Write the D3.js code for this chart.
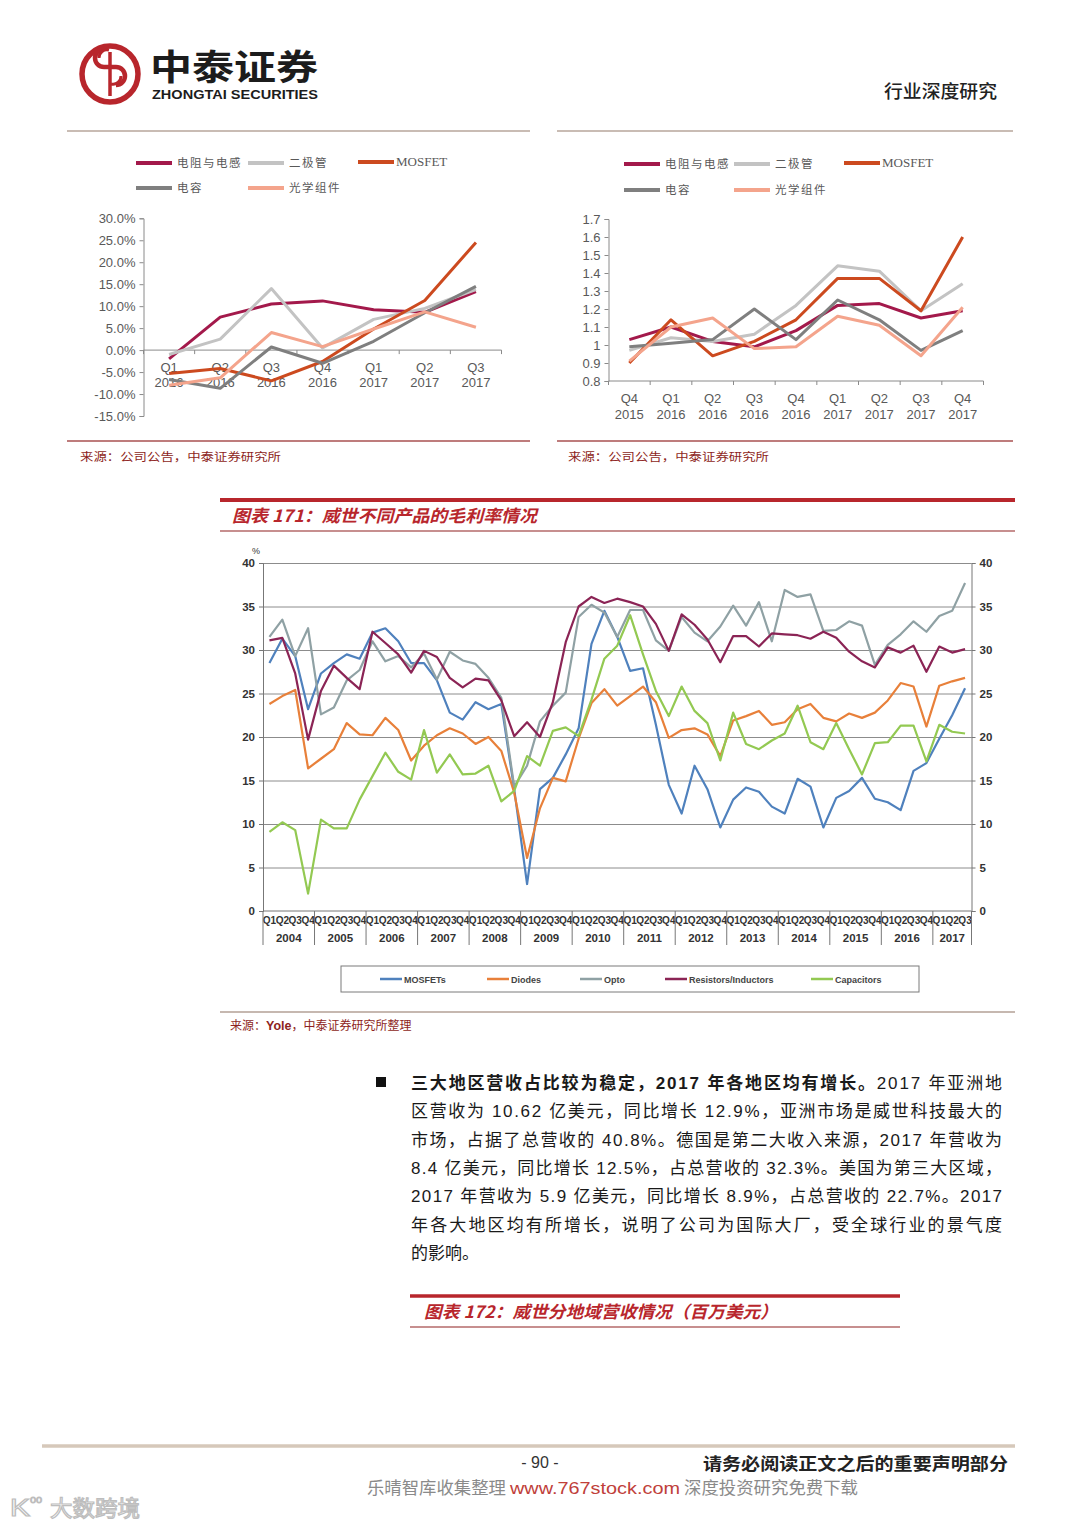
<!DOCTYPE html>
<html><head><meta charset="utf-8">
<script src="https://cdn.jsdelivr.net/npm/d3@7"></script>
<style>
html,body{margin:0;padding:0;background:#fff;}
svg{display:block;}
</style></head><body>
<svg id="page" width="1080" height="1527"></svg>
<script>
// ---------------- DATA ----------------
// top-left chart (YoY growth)
const tlCategories = [["Q1","2016"],["Q2","2016"],["Q3","2016"],["Q4","2016"],["Q1","2017"],["Q2","2017"],["Q3","2017"]];
const tlResistor  = [-2.0, 7.5, 10.5, 11.2, 9.2, 8.6, 13.3];
const tlDiode     = [-1.0, 2.5, 14.0, 0.5, 7.0, 9.5, 13.8];
const tlMosfet    = [-5.3, -4.2, -7.0, -2.6, 4.8, 11.3, 24.5];
const tlCapacitor = [-6.7, -8.7, 0.7, -3.0, 2.0, 8.5, 14.5];
const tlOptical   = [-8.0, -6.3, 4.0, 0.8, 4.8, 8.7, 5.2];
const tlTicks = [30, 25, 20, 15, 10, 5, 0, -5, -10, -15];

// top-right chart (book-to-bill)
const trCategories = [["Q4","2015"],["Q1","2016"],["Q2","2016"],["Q3","2016"],["Q4","2016"],["Q1","2017"],["Q2","2017"],["Q3","2017"],["Q4","2017"]];
const trResistor  = [1.03, 1.10, 1.02, 0.99, 1.08, 1.22, 1.23, 1.15, 1.19];
const trDiode     = [0.97, 1.04, 1.02, 1.06, 1.22, 1.44, 1.41, 1.19, 1.34];
const trMosfet    = [0.90, 1.14, 0.94, 1.02, 1.14, 1.37, 1.37, 1.19, 1.60];
const trCapacitor = [0.99, 1.01, 1.03, 1.20, 1.03, 1.25, 1.14, 0.97, 1.08];
const trOptical   = [0.91, 1.10, 1.15, 0.98, 0.99, 1.16, 1.11, 0.94, 1.21];
const trTicks = [1.7, 1.6, 1.5, 1.4, 1.3, 1.2, 1.1, 1.0, 0.9, 0.8];

const smallSeriesNames = ["电阻与电感", "二极管", "MOSFET", "电容", "光学组件"];

// main chart (gross margin %, Q1 2004 - Q3 2017)
const years = ["2004","2005","2006","2007","2008","2009","2010","2011","2012","2013","2014","2015","2016","2017"];
const quarterNames = ["Q1","Q2","Q3","Q4"];
const quartersInLastYear = 3;
const mainSeriesNames = ["MOSFETs","Diodes","Opto","Resistors/Inductors","Capacitors"];
const mosfets = [28.5,31.3,29.3,23.2,27.3,28.5,29.5,29.0,32.0,32.5,
                 31.0,28.5,28.5,26.5,22.8,22.0,24.0,23.2,23.8,14.0,
                 3.1,14.0,15.3,18.0,21.0,30.7,34.5,31.5,27.6,27.9,
                 21.4,14.5,11.2,16.7,14.0,9.6,12.8,14.2,13.7,12.0,
                 11.2,15.2,14.3,9.6,13.0,13.8,15.3,12.9,12.5,11.6,
                 16.1,17.0,19.8,22.5,25.6];
const diodes  = [23.8,24.7,25.4,16.4,17.5,18.6,21.6,20.3,20.2,22.2,
                 20.8,17.3,19.0,20.2,21.0,20.4,19.2,20.0,18.4,13.6,
                 6.1,11.8,15.3,14.9,19.8,23.9,25.5,23.6,24.7,25.8,
                 24.0,19.9,20.8,21.0,20.3,17.8,21.9,22.4,23.0,21.4,
                 21.7,23.2,23.8,22.2,21.8,22.7,22.2,22.8,24.2,26.2,
                 25.8,21.2,25.9,26.4,26.8];
const opto    = [31.5,33.5,29.3,32.5,22.6,23.4,26.5,27.7,31.0,28.7,
                 29.3,28.0,29.6,26.6,29.8,28.8,28.4,26.8,24.5,14.3,
                 16.7,21.8,23.6,25.1,33.8,35.2,34.3,31.5,34.6,34.6,
                 31.1,29.9,33.8,32.0,31.0,32.7,35.1,32.8,35.5,31.0,
                 36.9,36.1,36.4,32.2,32.3,33.3,32.8,28.3,30.6,31.8,
                 33.3,32.1,33.9,34.5,37.7];
const resistors = [31.1,31.4,27.3,19.7,25.3,28.2,26.8,25.5,32.1,30.8,
                 29.5,27.4,29.9,29.2,26.8,25.7,26.7,26.5,24.2,20.1,
                 21.7,20.0,24.0,30.9,35.0,36.1,35.4,35.9,35.5,35.0,
                 33.0,29.9,34.1,32.9,31.2,28.6,31.6,31.6,30.4,31.9,
                 31.8,31.7,31.3,32.1,31.4,29.8,28.7,28.0,30.3,29.7,
                 30.5,27.5,30.4,29.7,30.1];
const capacitors = [9.1,10.2,9.3,2.0,10.5,9.5,9.5,12.8,15.5,18.2,
                 16.0,15.1,20.8,15.9,18.0,15.7,15.8,16.7,12.6,13.8,
                 17.8,16.7,20.7,21.1,20.1,24.3,29.0,30.5,34.0,29.5,
                 25.3,22.4,25.8,23.0,21.6,17.3,22.8,19.2,18.6,19.6,
                 20.4,23.6,19.4,18.6,21.6,18.6,15.7,19.3,19.4,21.3,
                 21.3,17.2,21.4,20.6,20.4];
const mainTicks = [0,5,10,15,20,25,30,35,40];

// ---------------- STYLE ----------------
const CJK = "'Noto Sans CJK SC', sans-serif";
const SANS = "'Liberation Sans', Arial, 'Noto Sans CJK SC', sans-serif";
const SERIF = "'Liberation Serif', 'Times New Roman', serif";
const smallColors = ["#A3194B", "#C3C3C3", "#CC4A1F", "#7F7F7F", "#F4A48C"];
const mainColors = ["#4F81BD", "#E8803A", "#8FA1A4", "#8B2455", "#93C952"];
const RED = "#B8262C";
const MAROON = "#8E1F22";

const svg = d3.select("#page");

function hline(x1, x2, y, color, w) {
  svg.append("line").attr("x1", x1).attr("x2", x2).attr("y1", y).attr("y2", y)
    .attr("stroke", color).attr("stroke-width", w);
}
function txt(x, y, s, o) {
  const t = svg.append("text").attr("x", x).attr("y", y).text(s)
    .attr("font-family", o.family || CJK).attr("font-size", o.size || 12)
    .attr("fill", o.fill || "#000");
  if (o.weight) t.attr("font-weight", o.weight);
  if (o.style) t.attr("font-style", o.style);
  if (o.anchor) t.attr("text-anchor", o.anchor);
  if (o.len) t.attr("textLength", o.len).attr("lengthAdjust", o.adjust || "spacingAndGlyphs");
  return t;
}

// ---------------- HEADER ----------------
const logo = svg.append("g");
logo.append("circle").attr("cx", 110).attr("cy", 74).attr("r", 28).attr("fill", "none").attr("stroke", RED).attr("stroke-width", 5.5);
logo.append("path").attr("d", "M104,58 A9,9 0 1 0 104,76 L116,76 A9,9 0 1 1 116,94")
  .attr("fill", "none").attr("stroke", RED).attr("stroke-width", 4.5).attr("transform", "translate(0,-9)");
logo.append("path").attr("d", "M99,66 A8,8 0 0 1 109,58 M121,84 A8,8 0 0 1 111,92")
  .attr("fill", "none").attr("stroke", RED).attr("stroke-width", 3).attr("transform", "translate(0,-8)");
logo.append("line").attr("x1", 110).attr("x2", 110).attr("y1", 52).attr("y2", 96).attr("stroke", RED).attr("stroke-width", 3.5);

txt(150, 80, "中泰证券", {size: 35, weight: 700, fill: "#1c1c1c", len: 168});
txt(152, 99, "ZHONGTAI SECURITIES", {family: SANS, size: 12, weight: 700, fill: "#1c1c1c", len: 166});
txt(884, 98, "行业深度研究", {size: 18, weight: 500, fill: "#222", len: 113});

hline(67, 530, 131, "#C9BCB4", 2);
hline(557, 1013, 131, "#C9BCB4", 2);

// ---------------- SMALL CHARTS ----------------
function smallChart(opt) {
  const g = svg.append("g");
  const x = d3.scaleBand().domain(d3.range(opt.cats.length)).range([opt.x0, opt.x1]);
  const y = d3.scaleLinear().domain(opt.domain).range([opt.yBottom, opt.yTop]);
  const ya = d3.axisLeft(y).tickValues(opt.ticks).tickSize(4).tickFormat(opt.fmt);
  const yg = g.append("g").attr("transform", `translate(${opt.x0},0)`).call(ya);
  yg.select(".domain").attr("stroke", "#8a8a8a");
  yg.selectAll(".tick line").attr("stroke", "#8a8a8a");
  yg.selectAll(".tick text").attr("fill", "#595959").attr("font-size", 13).attr("font-family", SANS).attr("x", -8);
  const yb = y(opt.xAxisAt);
  g.append("line").attr("x1", opt.x0).attr("x2", opt.x1).attr("y1", yb).attr("y2", yb).attr("stroke", "#8a8a8a");
  d3.range(opt.cats.length + 1).forEach(i => {
    const xx = opt.x0 + i * x.step();
    g.append("line").attr("x1", xx).attr("x2", xx).attr("y1", yb).attr("y2", yb + 4).attr("stroke", "#8a8a8a");
  });
  opt.cats.forEach((c, i) => {
    const cx = x(i) + x.bandwidth() / 2;
    g.append("text").attr("x", cx).attr("y", opt.lab1).attr("text-anchor", "middle").text(c[0])
      .attr("font-family", SANS).attr("font-size", 13).attr("fill", "#595959");
    g.append("text").attr("x", cx).attr("y", opt.lab2).attr("text-anchor", "middle").text(c[1])
      .attr("font-family", SANS).attr("font-size", 13).attr("fill", "#595959");
  });
  const line = d3.line().x((d, i) => x(i) + x.bandwidth() / 2).y(d => y(d));
  opt.series.forEach((s, k) => {
    g.append("path").datum(s).attr("d", line).attr("fill", "none")
      .attr("stroke", smallColors[k]).attr("stroke-width", 3).attr("stroke-linejoin", "round");
  });
  // legend
  opt.legend.forEach((p, k) => {
    g.append("line").attr("x1", p[0]).attr("x2", p[0] + 36).attr("y1", p[1]).attr("y2", p[1])
      .attr("stroke", smallColors[k]).attr("stroke-width", 4);
    const name = smallSeriesNames[k];
    const isLatin = /^[A-Z]+$/.test(name);
    g.append("text").attr("x", p[0] + (isLatin ? 38 : 41)).attr("y", p[1] + 4).text(name)
      .attr("font-family", isLatin ? SERIF : CJK).attr("font-size", isLatin ? 13 : 11.5)
      .attr("fill", "#595959").attr("letter-spacing", isLatin ? 0 : 1.5);
  });
}

smallChart({
  cats: tlCategories, x0: 143.5, x1: 501.5, domain: [-15, 30], yBottom: 416, yTop: 218.3,
  ticks: tlTicks, fmt: d => d.toFixed(1) + "%", xAxisAt: 0, lab1: 372, lab2: 387,
  series: [tlResistor, tlDiode, tlMosfet, tlCapacitor, tlOptical],
  legend: [[136, 163], [248, 163], [358, 162], [136, 188], [248, 188]]
});
smallChart({
  cats: trCategories, x0: 608.5, x1: 983.5, domain: [0.8, 1.7], yBottom: 381, yTop: 219,
  ticks: trTicks, fmt: d => (Math.abs(d - 1) < 1e-9 ? "1" : d.toFixed(1)), xAxisAt: 0.8, lab1: 403, lab2: 419,
  series: [trResistor, trDiode, trMosfet, trCapacitor, trOptical],
  legend: [[624, 164], [734, 164], [844, 163], [624, 190], [734, 190]]
});

hline(67, 530, 441, "#A85050", 1.5);
hline(557, 1013, 441, "#A85050", 1.5);
txt(80, 461, "来源：公司公告，中泰证券研究所", {size: 11.5, fill: MAROON, len: 201});
txt(568, 461, "来源：公司公告，中泰证券研究所", {size: 11.5, fill: MAROON, len: 201});

// ---------------- MAIN CHART ----------------
hline(220, 1015, 500, RED, 4);
txt(232, 522, "图表 171：威世不同产品的毛利率情况", {size: 17, weight: 700, style: "italic", fill: RED, len: 305});
hline(220, 1015, 531, "#B46A6A", 1.5);

const quarters = [];
years.forEach((yr, yi) => {
  const n = yi === years.length - 1 ? quartersInLastYear : 4;
  for (let q = 0; q < n; q++) quarters.push({year: yr, q: quarterNames[q]});
});
const mx = d3.scaleBand().domain(d3.range(quarters.length)).range([263, 971.5]);
const my = d3.scaleLinear().domain([0, 40]).range([911, 563]);
const mg = svg.append("g");

// gridlines
mg.append("g").attr("transform", "translate(263,0)")
  .call(d3.axisLeft(my).tickValues(mainTicks.slice(1)).tickSize(-(971.5 - 263)).tickFormat(""))
  .call(g => g.select(".domain").remove())
  .call(g => g.selectAll(".tick line").attr("stroke", "#8c8c8c").attr("stroke-width", 1));
// left axis
const la = mg.append("g").attr("transform", "translate(263,0)")
  .call(d3.axisLeft(my).tickValues(mainTicks).tickSize(4));
la.select(".domain").attr("stroke", "#777");
la.selectAll(".tick line").attr("stroke", "#777");
la.selectAll(".tick text").attr("font-family", SANS).attr("font-size", 11.5).attr("font-weight", 700).attr("fill", "#333").attr("x", -8);
// right axis
const ra = mg.append("g").attr("transform", "translate(971.5,0)")
  .call(d3.axisRight(my).tickValues(mainTicks).tickSize(4));
ra.select(".domain").attr("stroke", "#777");
ra.selectAll(".tick line").attr("stroke", "#777");
ra.selectAll(".tick text").attr("font-family", SANS).attr("font-size", 11.5).attr("font-weight", 700).attr("fill", "#333").attr("x", 8);
txt(252, 554, "%", {family: SANS, size: 9, fill: "#333"});
// bottom axis line
mg.append("line").attr("x1", 263).attr("x2", 971.5).attr("y1", 911).attr("y2", 911).attr("stroke", "#777");
// quarter labels
quarters.forEach((d, i) => {
  mg.append("text").attr("x", mx(i) + mx.bandwidth() / 2).attr("y", 923.5).attr("text-anchor", "middle")
    .text(d.q).attr("font-family", SANS).attr("font-size", 10).attr("font-weight", 700).attr("fill", "#333")
    .attr("textLength", mx.bandwidth() + 0.5).attr("lengthAdjust", "spacingAndGlyphs");
});
// year separators and labels
let start = 0;
years.forEach((yr, yi) => {
  const n = quarters.filter(q => q.year === yr).length;
  const xs = mx(start);
  const xe = xs + n * mx.step();
  mg.append("line").attr("x1", xs).attr("x2", xs).attr("y1", 911).attr("y2", 945).attr("stroke", "#777");
  if (yi === years.length - 1) mg.append("line").attr("x1", xe).attr("x2", xe).attr("y1", 911).attr("y2", 945).attr("stroke", "#777");
  mg.append("text").attr("x", (xs + xe) / 2).attr("y", 942).attr("text-anchor", "middle").text(yr)
    .attr("font-family", SANS).attr("font-size", 11.5).attr("font-weight", 700).attr("fill", "#333");
  start += n;
});
// series
const mline = d3.line().x((d, i) => mx(i) + mx.bandwidth() / 2).y(d => my(d));
[mosfets, diodes, opto, resistors, capacitors].forEach((s, k) => {
  mg.append("path").datum(s).attr("d", mline).attr("fill", "none")
    .attr("stroke", mainColors[k]).attr("stroke-width", 2.2).attr("stroke-linejoin", "round");
});
// legend
mg.append("rect").attr("x", 341).attr("y", 966).attr("width", 578).attr("height", 26)
  .attr("fill", "#fff").attr("stroke", "#7a7a7a").attr("stroke-width", 1);
const legX = [380, 487, 580, 665, 811];
mainSeriesNames.forEach((n, k) => {
  mg.append("line").attr("x1", legX[k]).attr("x2", legX[k] + 22).attr("y1", 979).attr("y2", 979)
    .attr("stroke", mainColors[k]).attr("stroke-width", 2.5);
  mg.append("text").attr("x", legX[k] + 24).attr("y", 982.5).text(n)
    .attr("font-family", SANS).attr("font-size", 9).attr("font-weight", 700).attr("fill", "#444");
});

hline(220, 1015, 1012, "#C6B8B0", 2);
const src = svg.append("text").attr("x", 230).attr("y", 1030).attr("font-size", 12).attr("fill", MAROON).attr("font-family", CJK);
src.append("tspan").text("来源：");
src.append("tspan").text("Yole").attr("font-family", SANS).attr("font-weight", 700).attr("font-size", 12.5);
src.append("tspan").text("，中泰证券研究所整理");

// ---------------- PARAGRAPH ----------------
svg.append("rect").attr("x", 376).attr("y", 1077).attr("width", 10).attr("height", 10).attr("fill", "#111");
const paraLines = [
  ["三大地区营收占比较为稳定，2017 年各地区均有增长。", "2017 年亚洲地"],
  ["", "区营收为 10.62 亿美元，同比增长 12.9%，亚洲市场是威世科技最大的"],
  ["", "市场，占据了总营收的 40.8%。德国是第二大收入来源，2017 年营收为"],
  ["", "8.4 亿美元，同比增长 12.5%，占总营收的 32.3%。美国为第三大区域，"],
  ["", "2017 年营收为 5.9 亿美元，同比增长 8.9%，占总营收的 22.7%。2017"],
  ["", "年各大地区均有所增长，说明了公司为国际大厂，受全球行业的景气度"],
  ["", "的影响。"]
];
paraLines.forEach((l, i) => {
  const t = svg.append("text").attr("x", 411).attr("y", 1089 + i * 28.3)
    .attr("font-family", "'Liberation Sans', 'Noto Sans CJK SC', sans-serif").attr("font-size", 17).attr("fill", "#1a1a1a");
  if (l[0]) t.append("tspan").text(l[0]).attr("font-weight", 700);
  t.append("tspan").text(l[1]);
  if (i < paraLines.length - 1) t.attr("textLength", 591).attr("lengthAdjust", "spacing");
});

// ---------------- NEXT TITLE ----------------
hline(410, 900, 1296, RED, 3.5);
txt(424, 1318, "图表 172：威世分地域营收情况（百万美元）", {size: 17, weight: 700, style: "italic", fill: RED, len: 354});
hline(410, 900, 1327, "#B46A6A", 1.5);

// ---------------- FOOTER ----------------
hline(42, 1015, 1446, "#D6C8BA", 3.5);
txt(540, 1468, "- 90 -", {family: SANS, size: 16, fill: "#333", anchor: "middle"});
txt(703, 1470, "请务必阅读正文之后的重要声明部分", {size: 17, weight: 700, fill: "#222", len: 305});
txt(367, 1494, "乐晴智库收集整理", {size: 17, fill: "#8a8a8a", len: 139});
txt(510, 1494, "www.767stock.com", {family: SANS, size: 17, fill: "#C0403A", len: 170});
txt(684, 1494, "深度投资研究免费下载", {size: 17, fill: "#8a8a8a", len: 174});
txt(10, 1516, "K", {family: SANS, size: 24, fill: "#fff", len: 20}).attr("stroke", "#bdbdbd").attr("stroke-width", 1.2);
txt(30, 1503, "oo", {family: SANS, size: 11, fill: "#fff"}).attr("stroke", "#bdbdbd").attr("stroke-width", 1);
txt(50, 1516, "大数跨境", {size: 22, fill: "#fff", len: 90}).attr("stroke", "#bdbdbd").attr("stroke-width", 1.2);
</script>
</body></html>
